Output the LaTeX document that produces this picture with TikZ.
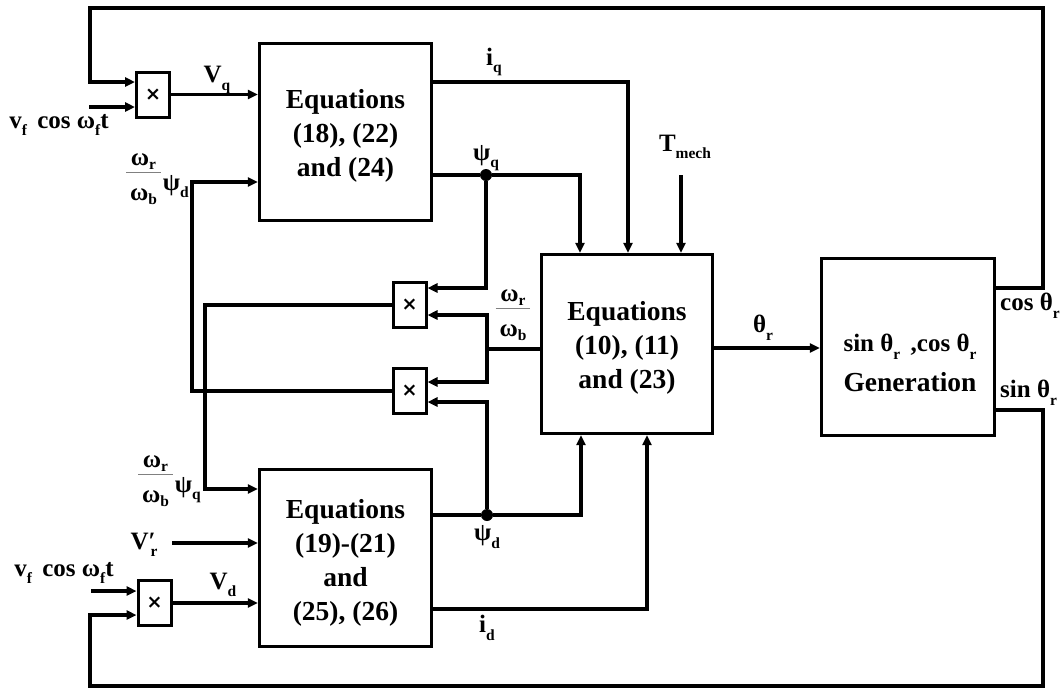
\documentclass[tikz,border=0pt]{standalone}
\usepackage{fontspec}
\setmainfont{Liberation Serif}
\newfontfamily\symf{DejaVu Sans}
\usetikzlibrary{arrows.meta,calc}
\newcommand\sbs[1]{\raisebox{-0.3em}{\scalebox{0.62}{#1}}}
\newcommand\fsb[1]{\raisebox{-0.15em}{\scalebox{0.62}{#1}}}
\newlength\frw
\newsavebox\fnum
\newsavebox\fden
\newcommand\wfr[2]{\sbox\fnum{ω\fsb{#1}}\sbox\fden{ω\fsb{#2}}%
 \setlength\frw{\wd\fnum}\ifdim\wd\fden>\frw \setlength\frw{\wd\fden}\fi\addtolength\frw{8pt}%
 \rlap{\hbox to\frw{\hss\raisebox{0.98em}{\usebox\fnum}\hss}}%
 \rlap{\hbox to\frw{\hss\raisebox{-0.42em}{\usebox\fden}\hss}}%
 \rlap{\raisebox{0.68em}{\color{gray}\rule{\frw}{0.8pt}}}%
 \kern\frw}
\begin{document}
\begin{tikzpicture}[x=1pt,y=-1pt,
  box/.style={draw,line width=3.4pt,inner sep=0pt,align=center,font=\fontsize{27.5}{34}\selectfont\bfseries},
  mul/.style={draw,line width=3pt,minimum width=33pt,minimum height=45pt,inner sep=0pt,font=\symf\fontsize{19}{19}\selectfont\bfseries},
  wire/.style={line width=3.2pt},
  arr/.style={wire,-{Triangle[length=10pt,width=9pt]}},
  lbl/.style={inner sep=0pt,font=\fontsize{25}{28}\selectfont\bfseries},
  jdot/.style={circle,fill,inner sep=0pt,minimum size=12pt}]
\useasboundingbox (0,0) rectangle (1061,689);

% blocks
\node[box,minimum width=172pt,minimum height=177pt] (eq1) at (345.5,132) {};
\node[box,minimum width=172pt,minimum height=177pt] (eq2) at (345.5,558) {};
\node[box,minimum width=171pt,minimum height=179pt] (eq3) at (627,344) {};
\node[box,minimum width=173pt,minimum height=177pt] (gen) at (908,347) {};
\node[box,draw=none] (eq1T) at (345.5,136) {Equations\\(18), (22)\\and (24)};
\node[box,draw=none] (eq2T) at (345.5,563) {Equations\\(19)-(21)\\and\\(25), (26)};
\node[box,draw=none] (eq3T) at (627,348) {Equations\\(10), (11)\\and (23)};
\node[inner sep=0pt,align=center,font=\fontsize{27.5}{40}\selectfont\bfseries] (genT) at (910,363)
  {{\fontsize{25}{28}\selectfont sin θ\sbs{r}\ \,,cos θ\sbs{r}}\\Generation};

% multipliers
\node[mul] (m1) at (153,94.5) {×};
\node[mul] (m2) at (409.5,305) {×};
\node[mul] (m3) at (409.5,391) {×};
\node[mul] (m4) at (154.5,603) {×};

% junction dots
\node[jdot] (dq) at (486,175) {};
\node[jdot] (dd) at (487,515) {};

% coordinates
\coordinate (tr) at (1043,8);
\coordinate (tl) at (90,8);
\coordinate (br) at (1043,686);
\coordinate (bl) at (90,686);
\coordinate (v1) at (89,107);
\coordinate (v4) at (91,591);
\coordinate (vr) at (172,543);
\coordinate (pd) at (192,182);
\coordinate (pq) at (205,489);
\coordinate (iq) at (628,82);
\coordinate (pq2) at (580,175);
\coordinate (tm) at (681,175);
\coordinate (wj) at (487,349);
\coordinate (pd2) at (581,515);
\coordinate (id) at (647,609);

% feedback loops
\draw[arr] (gen.east|-0,288) -| (tr) -- (tl) |- (m1.west|-0,82);
\draw[arr] (gen.east|-0,410) -| (br) -- (bl) |- (m4.west|-0,615);

% inputs
\draw[arr] (v1) -- (v1-|m1.west);
\draw[arr] (v4) -- (v4-|m4.west);
\draw[arr] (m1.east) -- (m1.east-|eq1.west);
\draw[arr] (m4.east) -- (m4.east-|eq2.west);
\draw[arr] (vr) -- (vr-|eq2.west);
\draw[arr] (m3.west) -| (pd) -- (pd-|eq1.west);
\draw[arr] (m2.west) -| (pq) -- (pq-|eq2.west);

% eq1 outputs
\draw[arr] (eq1.east|-iq) -- (iq) -- (iq|-eq3.north);
\draw[wire] (eq1.east|-dq) -- (dq);
\draw[arr] (dq) -- (pq2) -- (pq2|-eq3.north);
\draw[arr] (dq) |- (m2.east|-0,288);
\draw[arr] (tm) -- (tm|-eq3.north);

% speed ratio
\draw[wire] (eq3.west|-wj) -- (wj);
\draw[arr] (wj) |- (m2.east|-0,315);
\draw[arr] (wj) |- (m3.east|-0,382);

% eq2 outputs
\draw[wire] (eq2.east|-dd) -- (dd);
\draw[arr] (dd) -- (pd2) -- (pd2|-eq3.south);
\draw[arr] (dd) |- (m3.east|-0,402);
\draw[arr] (eq2.east|-id) -- (id) -- (id|-eq3.south);

% theta
\draw[arr] (eq3.east|-0,348) -- (gen.west|-0,348);

% labels
\node[lbl] (lvq) at (217,80) {V\sbs{q}};
\node[lbl] (lv1) at (59,125) {v\sbs{f}\, cos ω\sbs{f}t};
\node[lbl,anchor=base east] (lpd) at (189,190) {\wfr{r}{b}\hspace{2pt}ψ\sbs{d}};
\node[lbl,anchor=base east] (lpq) at (201,492) {\wfr{r}{b}\hspace{2pt}ψ\sbs{q}};
\node[lbl] (lvr) at (144,545) {V′\kern-0.2em\sbs{r}};
\node[lbl] (lv4) at (64,573) {v\sbs{f}\, cos ω\sbs{f}t};
\node[lbl] (lvd) at (223,585) {V\sbs{d}};
\node[lbl] (liq) at (494,62) {i\sbs{q}};
\node[lbl] (lpsq) at (486,158) {ψ\sbs{q}};
\node[lbl] (ltm) at (685,147) {T\sbs{mech}};
\node[lbl,anchor=base] (lw) at (513,326) {\wfr{r}{b}};
\node[lbl] (lpsd) at (487,537) {ψ\sbs{d}};
\node[lbl] (lid) at (487,628) {i\sbs{d}};
\node[lbl] (lth) at (763,328) {θ\sbs{r}};
\node[lbl,anchor=west] (lcos) at (1000,306) {cos θ\sbs{r}};
\node[lbl,anchor=west] (lsin) at (1000,393) {sin θ\sbs{r}};
\end{tikzpicture}
\end{document}
